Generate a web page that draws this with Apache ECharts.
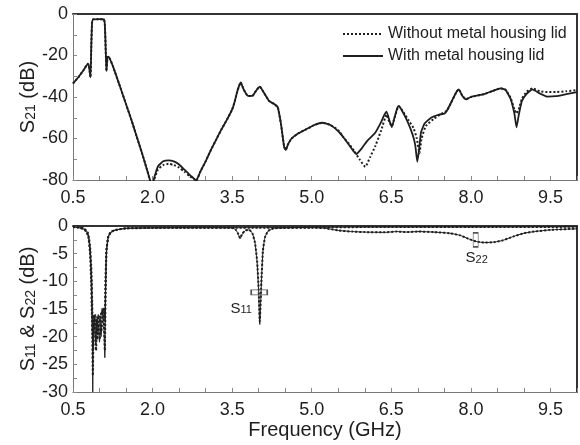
<!DOCTYPE html>
<html>
<head>
<meta charset="utf-8">
<script src="https://cdn.jsdelivr.net/npm/echarts@6/dist/echarts.min.js"></script>
<style>html,body{margin:0;padding:0;background:#fff}#c{width:580px;height:445px}</style>
</head>
<body>
<div id="c"></div>
<script>
// ---- data (frequency GHz, dB) ----
const s21WithoutLid = [
 [0.5,-33.5],[0.6,-30.5],[0.7,-27],[0.78,-24],[0.8,-25],[0.83,-30.5],[0.845,-15],[0.86,-4],[0.88,-2.6],[1.0,-2.5],[1.08,-2.6],[1.1,-5],[1.12,-20],[1.13,-27.5],[1.15,-21],[1.17,-20.5],
 [1.25,-25],[1.4,-36],[1.5,-43.5],[1.6,-51],[1.7,-59],[1.8,-67],[1.9,-75.5],[1.95,-80],[1.98,-86],[2.0,-86],[2.03,-80],[2.1,-75],[2.2,-72.8],[2.3,-72.2],[2.4,-72.8],[2.5,-74],[2.6,-76],[2.7,-78.2],[2.8,-80],[2.82,-80.5],
 [2.9,-76],[3.0,-71],[3.1,-65.5],[3.2,-60.5],[3.3,-55.5],[3.4,-51],[3.5,-46],[3.55,-42],[3.6,-37],[3.66,-33],[3.72,-36.5],[3.8,-39.5],[3.88,-39.5],[3.95,-37],[4.02,-35],[4.1,-38],[4.2,-42],[4.3,-43.5],[4.36,-45],[4.42,-53],[4.48,-64],[4.51,-65.5],[4.55,-63],[4.62,-60],[4.75,-57.5],[4.9,-55.5],[5.05,-53.5],[5.2,-52.4],[5.35,-53.5],[5.5,-56],[5.6,-59.5],[5.7,-62.5],[5.8,-66],[5.9,-70],[6.01,-73.6],[6.1,-69],[6.2,-63.5],[6.31,-56],[6.41,-48.5],[6.46,-52],[6.51,-54],[6.56,-50],[6.64,-44.5],[6.72,-47],[6.82,-51],[6.92,-55],[6.98,-60],[7.03,-67],[7.07,-60],[7.15,-54],[7.3,-50.5],[7.45,-48],[7.55,-46.5],[7.65,-41.5],[7.73,-37.5],[7.77,-36.3],[7.84,-39.5],[7.91,-41.1],[8.0,-40],[8.25,-38.6],[8.4,-37.2],[8.56,-35.8],[8.65,-36.5],[8.75,-40.5],[8.82,-46],[8.86,-48],[8.9,-46],[8.96,-41],[9.05,-37.5],[9.16,-35.8],[9.3,-37.3],[9.44,-37.6],[9.6,-37.6],[9.8,-37.2],[10.0,-36.7]
];
const s21WithLid = [
 [0.5,-33.5],[0.6,-30.5],[0.7,-27],[0.78,-24],[0.8,-25],[0.83,-30.5],[0.845,-15],[0.86,-4],[0.88,-2.6],[1.0,-2.5],[1.08,-2.6],[1.1,-5],[1.12,-20],[1.13,-27.5],[1.15,-21],[1.17,-20.5],
 [1.25,-25],[1.4,-36],[1.5,-43.5],[1.6,-51],[1.7,-59],[1.8,-67],[1.9,-75.5],[1.95,-80],[1.98,-86],[2.0,-86],[2.02,-80],[2.1,-73.5],[2.2,-71],[2.3,-70.5],[2.4,-71],[2.5,-72.5],[2.6,-75],[2.7,-77.5],[2.8,-79.8],[2.82,-80.5],
 [2.9,-76],[3.0,-71],[3.1,-65.5],[3.2,-60.5],[3.3,-55.5],[3.4,-51],[3.5,-46],[3.55,-42],[3.6,-37],[3.66,-33],[3.72,-36.5],[3.8,-39.5],[3.88,-39.5],[3.95,-37],[4.02,-35],[4.1,-38],[4.2,-42],[4.3,-43.5],[4.36,-45],[4.42,-53],[4.48,-64],[4.51,-65.5],[4.55,-63],[4.62,-60],[4.75,-57.5],[4.9,-55.5],[5.05,-53.5],[5.2,-52.4],[5.35,-53.5],[5.5,-56.5],[5.6,-59.5],[5.7,-63],[5.8,-66.5],[5.84,-67.5],[5.95,-64.5],[6.05,-61],[6.19,-57.5],[6.3,-52.5],[6.36,-49],[6.41,-47],[6.46,-51],[6.51,-54.5],[6.56,-50],[6.61,-45.5],[6.64,-44.3],[6.7,-46.5],[6.8,-51.5],[6.9,-58],[6.95,-63],[6.99,-71.2],[7.02,-66],[7.06,-57],[7.13,-52.7],[7.25,-50],[7.4,-48.5],[7.5,-48],[7.55,-46.5],[7.65,-41.5],[7.73,-37.5],[7.77,-36.3],[7.84,-39.5],[7.91,-41.1],[8.0,-40],[8.25,-38.6],[8.4,-37.2],[8.56,-35.8],[8.65,-36.5],[8.75,-41],[8.82,-48],[8.86,-54.6],[8.9,-49],[8.96,-42],[9.05,-38.5],[9.16,-36.3],[9.3,-38.3],[9.44,-39.8],[9.6,-39.6],[9.8,-38.6],[10.0,-37.6]
];
const s11WithLid = [
 [0.5,-0.2],[0.6,-0.3],[0.7,-0.6],[0.75,-1.0],[0.79,-2.0],[0.82,-4.5],[0.84,-9],[0.855,-15],[0.865,-20],[0.872,-30],[0.882,-21],[0.895,-16.2],[0.91,-17],[0.93,-21.5],[0.95,-16.8],[0.975,-17.8],[1.0,-21],[1.02,-16.5],[1.05,-15.2],[1.075,-16.2],[1.1,-23.8],[1.115,-12],[1.13,-5],[1.16,-2.2],[1.2,-1.2],[1.3,-0.7],[1.5,-0.45],[2.0,-0.35],[3.0,-0.3],[3.5,-0.35],[3.57,-0.7],[3.62,-1.6],[3.65,-2.3],[3.69,-1.5],[3.75,-0.8],[3.82,-0.7],[3.88,-1.3],[3.93,-3],[3.97,-6.5],[4.0,-12],[4.02,-17.8],[4.05,-10.5],[4.08,-4.5],[4.12,-2.0],[4.18,-0.9],[4.3,-0.4],[5.0,-0.25],[6.0,-0.2],[8.0,-0.2],[10.0,-0.15]
];
const s11WithoutLid = [
 [0.5,-0.2],[0.6,-0.3],[0.7,-0.6],[0.75,-1.0],[0.79,-2.1],[0.82,-4.8],[0.84,-9.5],[0.855,-15.5],[0.865,-21],[0.874,-27],[0.885,-20],[0.9,-16],[0.915,-18],[0.935,-22.5],[0.955,-16.5],[0.98,-18.5],[1.005,-20.5],[1.025,-16],[1.05,-15],[1.08,-16.8],[1.1,-22.5],[1.115,-11],[1.13,-4.6],[1.16,-2.1],[1.2,-1.2],[1.3,-0.7],[1.5,-0.45],[2.0,-0.35],[3.0,-0.3],[3.5,-0.35],[3.57,-0.7],[3.62,-1.5],[3.65,-2.2],[3.69,-1.4],[3.75,-0.8],[3.82,-0.7],[3.88,-1.3],[3.93,-3],[3.97,-6.3],[4.0,-11.5],[4.02,-17.2],[4.05,-10.2],[4.08,-4.4],[4.12,-2.0],[4.18,-0.9],[4.3,-0.4],[5.0,-0.25],[6.0,-0.2],[8.0,-0.2],[10.0,-0.15]
];
const s22WithLid = [
 [0.5,-0.1],[0.7,-0.4],[0.78,-1.2],[0.82,-3.5],[0.85,-9],[0.865,-16],[0.88,-22.5],[0.9,-17],[0.925,-16],[0.95,-19.5],[0.975,-16],[1.0,-17],[1.03,-20],[1.06,-15],[1.085,-14.8],[1.1,-17],[1.115,-10],[1.13,-4.5],[1.17,-1.8],[1.25,-0.9],[1.5,-0.4],[2.5,-0.3],[4.0,-0.3],[5.0,-0.3],[5.25,-0.4],[5.5,-0.8],[5.75,-1.0],[6.0,-1.1],[6.38,-1.15],[6.6,-1.0],[6.8,-1.1],[7.0,-1.0],[7.3,-1.1],[7.6,-1.3],[7.8,-1.7],[7.95,-2.3],[8.1,-2.8],[8.25,-3.0],[8.45,-2.9],[8.6,-2.6],[8.8,-1.9],[9.0,-1.3],[9.2,-1.0],[9.5,-0.7],[10.0,-0.5]
];
const s22WithoutLid = [
 [0.5,-0.1],[0.7,-0.4],[0.78,-1.2],[0.82,-3.4],[0.85,-8.5],[0.865,-15.5],[0.88,-21.5],[0.9,-16.5],[0.93,-17],[0.955,-20.5],[0.98,-16.2],[1.0,-16.5],[1.035,-19],[1.06,-15.5],[1.085,-15],[1.1,-16],[1.115,-9.5],[1.13,-4.3],[1.17,-1.8],[1.25,-0.9],[1.5,-0.4],[2.5,-0.3],[4.0,-0.3],[5.0,-0.3],[5.25,-0.4],[5.5,-0.8],[5.75,-1.0],[6.0,-1.1],[6.38,-1.15],[6.6,-1.0],[6.8,-1.1],[7.0,-1.0],[7.3,-1.1],[7.6,-1.3],[7.8,-1.7],[7.95,-2.3],[8.1,-2.8],[8.25,-3.0],[8.45,-2.9],[8.6,-2.6],[8.8,-1.9],[9.0,-1.3],[9.2,-1.0],[9.5,-0.7],[10.0,-0.5]
];
const s11Note = [4.01, -12];
const s22Note = [8.09, -2.5];
const legendNames = ['Without metal housing lid', 'With metal housing lid'];

// ---- chart ----
const FONT = 'Liberation Sans, Arial, sans-serif';
const INK = '#1e1e1e';
const chart = echarts.init(document.getElementById('c'), null, {renderer: 'canvas'});

function isMult(v, step, base) { const k = (v - base) / step; return Math.abs(k - Math.round(k)) < 1e-6; }

function xBottom(gi, extra) {
  return Object.assign({
    type: 'value', gridIndex: gi, min: 0.5, max: 10, interval: 0.5, position: 'bottom',
    axisLine: {onZero: false, lineStyle: {color: '#777', width: 1}},
    axisTick: {inside: true, length: 4, lineStyle: {color: '#888'}},
    axisLabel: {margin: 9, fontSize: 18, color: INK, fontFamily: FONT,
      formatter: v => isMult(v, 1.5, 0.5) ? v.toFixed(1) : ''},
    splitLine: {show: false}
  }, extra || {});
}
function xTop(gi) {
  return {type: 'value', gridIndex: gi, min: 0.5, max: 10, position: 'top',
    axisLine: {onZero: false, lineStyle: {color: '#333', width: 2}},
    axisTick: {show: false}, axisLabel: {show: false}, splitLine: {show: false}};
}
function yLeft(gi, min, step, lblStep, name) {
  return {type: 'value', gridIndex: gi, min: min, max: 0, interval: step, position: 'left',
    axisLine: {onZero: false, lineStyle: {color: '#777', width: 1}},
    axisTick: {inside: true, length: 4, lineStyle: {color: '#888'}},
    axisLabel: {margin: 5, fontSize: 18, color: INK, fontFamily: FONT,
      formatter: v => isMult(v, lblStep, 0) ? String(v) : ''},
    splitLine: {show: false},
    name: name, nameLocation: 'middle', nameGap: 35, nameMoveOverlap: false,
    nameTextStyle: {color: INK, fontFamily: FONT, rich: {
      n: {fontSize: 20, fontFamily: FONT, color: INK, lineHeight: 20},
      s: {fontSize: 14, fontFamily: FONT, color: INK, lineHeight: 9, verticalAlign: 'bottom'}
    }}
  };
}
function yRight(gi, min) {
  return {type: 'value', gridIndex: gi, min: min, max: 0, position: 'right',
    axisLine: {onZero: false, lineStyle: {color: '#333', width: 2}},
    axisTick: {show: false}, axisLabel: {show: false}, splitLine: {show: false}};
}

const noteRich = {
  n: {fontSize: 15, fontFamily: FONT, color: INK, lineHeight: 15},
  s: {fontSize: 11, fontFamily: FONT, color: INK, lineHeight: 7, verticalAlign: 'bottom'}
};

function lineSeries(name, data, xi, yi, dotted, width, extra) {
  return Object.assign({
    name: name, type: 'line', data: data, xAxisIndex: xi, yAxisIndex: yi,
    showSymbol: false, symbol: 'none', smooth: 0.15,
    lineStyle: {color: INK, width: width, type: dotted ? 'dotted' : 'solid'},
    itemStyle: {color: INK}, clip: true, z: dotted ? 3 : 2
  }, extra || {});
}

const option = {
  animation: false,
  backgroundColor: '#fff',
  textStyle: {fontFamily: FONT},
  grid: [
    {left: 73, right: 2, top: 14, height: 166},
    {left: 73, right: 2, top: 226, height: 166}
  ],
  legend: {
    data: legendNames, orient: 'vertical', left: 342, top: 26, padding: 0, itemGap: 6,
    itemWidth: 40, itemHeight: 14, itemStyle: {opacity: 0},
    textStyle: {fontSize: 16, color: INK, fontFamily: FONT}
  },
  xAxis: [
    xBottom(0), xTop(0),
    xBottom(1, {name: 'Frequency (GHz)', nameLocation: 'middle', nameGap: 28, nameMoveOverlap: false,
      nameTextStyle: {fontSize: 20, color: INK, fontFamily: FONT}}),
    xTop(1)
  ],
  yAxis: [
    yLeft(0, -80, 10, 20, '{n|S}{s|21}{n| (dB)}'), yRight(0, -80),
    yLeft(1, -30, 2.5, 5, '{n|S}{s|11}{n| & S}{s|22}{n| (dB)}'), yRight(1, -30)
  ],
  series: [
    lineSeries(legendNames[0], s21WithoutLid, 0, 0, true, 2),
    lineSeries(legendNames[1], s21WithLid, 0, 0, false, 1.8),
    lineSeries('S11 with lid', s11WithLid, 2, 2, false, 1, {
      markPoint: {symbol: 'rect', silent: true, z: 10, data: [
        {coord: s11Note, symbolSize: [16, 5], itemStyle: {color: 'rgba(255,255,255,0)', borderColor: '#555', borderWidth: 1}, label: {show: false}},
        {coord: s11Note, symbolSize: 1, itemStyle: {color: 'rgba(255,255,255,0)'},
          label: {show: true, position: 'inside', offset: [-18, 16], formatter: '{n|S}{s|11}', rich: noteRich}},
        {coord: s22Note, symbolSize: [5, 14], itemStyle: {color: 'rgba(255,255,255,0)', borderColor: '#555', borderWidth: 1}, label: {show: false}},
        {coord: s22Note, symbolSize: 1, itemStyle: {color: 'rgba(255,255,255,0)'},
          label: {show: true, position: 'inside', offset: [1, 18], formatter: '{n|S}{s|22}', rich: noteRich}}
      ]}
    }),
    lineSeries('S11 without lid', s11WithoutLid, 2, 2, true, 2),
    lineSeries('S22 with lid', s22WithLid, 2, 2, false, 1),
    lineSeries('S22 without lid', s22WithoutLid, 2, 2, true, 2)
  ]
};
chart.setOption(option);
</script>
</body>
</html>
